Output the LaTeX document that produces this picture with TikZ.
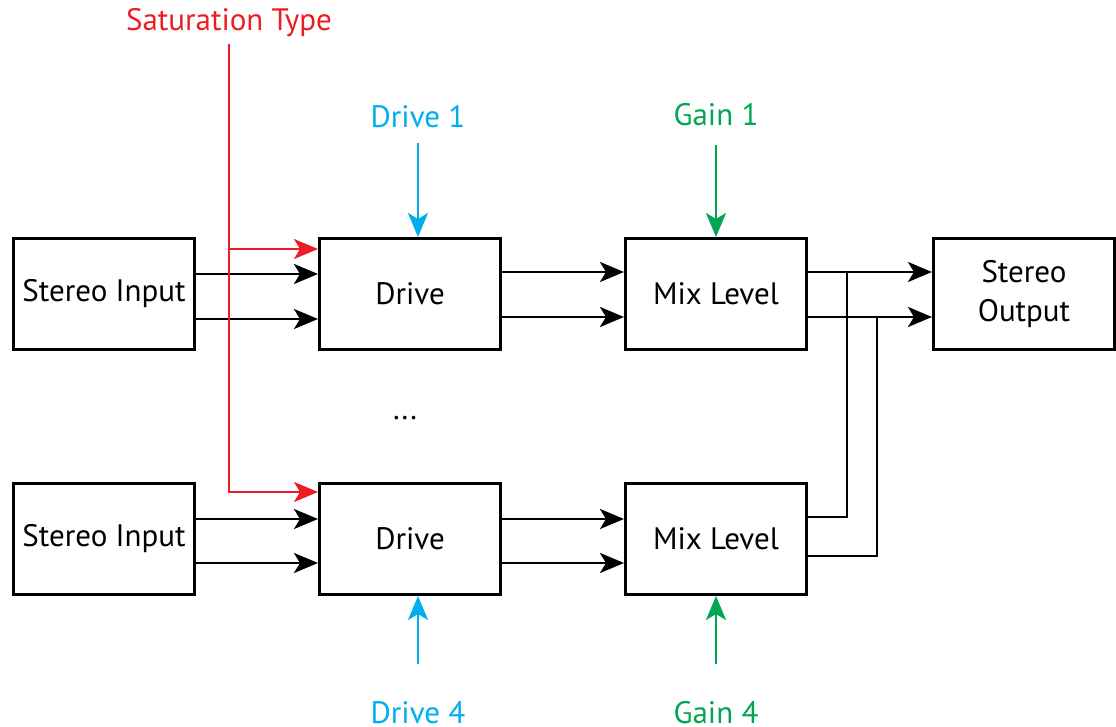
\documentclass[tikz,border=0pt]{standalone}
\usepackage{fontspec}
\setmainfont{PT Sans}
\usetikzlibrary{calc,positioning,arrows.meta}
\definecolor{satred}{RGB}{237,28,36}
\definecolor{driveblue}{RGB}{0,174,239}
\definecolor{gaingreen}{RGB}{0,166,81}

\begin{document}
\begin{tikzpicture}[
    font=\fontsize{15.5pt}{19.5pt}\selectfont,
    >={Stealth[length=12pt,width=10pt,inset=3pt]},
  ]
  \useasboundingbox (0,0) rectangle (558pt,-363.5pt);
  \begin{scope}[
    block node/.style={
      draw,
      line width=1.5pt,
      align=center,
      minimum width=90.5pt,
      minimum height=55.5pt,
      inner sep=0pt,
    },
    node distance=61pt,
    ]
    \node[block node] (input-one) at (52pt,-147pt) {Stereo Input};
    \node[block node,right=of input-one] (drive-one) {Drive};
    \node[block node,right=of drive-one] (mix-one)   {Mix Level};
    \node[block node,right=62pt of mix-one] (output) {Stereo\\Output};
    \node[block node,below=65.5pt of input-one] (input-four) {Stereo Input};
    \node[block node,right=of input-four] (drive-four) {Drive};
    \node[block node,right=of drive-four] (mix-four)   {Mix Level};
  \end{scope}
  \node (more) at ($(drive-one)!0.5!(drive-four)+(-2.5pt,-1pt)$) {...};
  \begin{scope}[
    every path/.style={draw,->,line width=1.35pt},
    ]
    \draw ([yshift=10pt]input-one.east)    -- ([yshift=10pt]drive-one.west);
    \draw ([yshift=-12.5pt]input-one.east) -- ([yshift=-12.5pt]drive-one.west);
    \draw ([yshift=11pt]drive-one.east)    -- ([yshift=11pt]mix-one.west);
    \draw ([yshift=-11.5pt]drive-one.east) -- ([yshift=-11.5pt]mix-one.west);
    \draw ([yshift=11pt]mix-one.east)      -- ([yshift=11pt]output.west);
    \draw ([yshift=-11.5pt]mix-one.east)   -- ([yshift=-11.5pt]output.west);
    \draw ([yshift=10pt]input-four.east)   -- ([yshift=10pt]drive-four.west);
    \draw ([yshift=-12pt]input-four.east)  -- ([yshift=-12pt]drive-four.west);
    \draw ([yshift=10pt]drive-four.east)   -- ([yshift=10pt]mix-four.west);
    \draw ([yshift=-12pt]drive-four.east)  -- ([yshift=-12pt]mix-four.west);
  \end{scope}
  % bus from the lower mix into the output lines
  \coordinate (merge-left)  at ($(mix-one.east)+(19.5pt,11pt)$);
  \coordinate (merge-right) at ($(mix-one.east)+(34.5pt,-11.5pt)$);
  \draw[line width=1.35pt] ([yshift=11pt]mix-four.east) -| (merge-left);
  \draw[line width=1.35pt] ([yshift=-8.5pt]mix-four.east) -| (merge-right);
  % saturation type
  \node[satred,inner sep=0pt] (sat-type) at (114.5pt,-11.5pt) {Saturation Type};
  \coordinate (sat-one)  at ($(drive-one.north west)+(0,-6pt)$);
  \coordinate (sat-four) at ($(drive-four.north west)+(0,-5pt)$);
  \coordinate (sat-split) at (sat-type |- sat-one);
  \draw[satred,line width=1pt,->,shorten <=3pt] (sat-type) |- (sat-four);
  \draw[satred,line width=1pt,->] (sat-split) -- (sat-one);
  % controls
  \begin{scope}[
    control label/.style={inner sep=0pt},
    every path/.style={line width=1.35pt},
    ]
    \node[control label,driveblue,above=54pt of drive-one,xshift=4pt] (drive-1) {Drive 1};
    \node[control label,gaingreen,above=55pt of mix-one] (gain-1) {Gain 1};
    \node[control label,driveblue,below=52pt of drive-four,xshift=4pt] (drive-4) {Drive 4};
    \node[control label,gaingreen,below=52pt of mix-four] (gain-4) {Gain 4};
    \draw[driveblue,->,shorten <=7pt]  (drive-1) -- ([xshift=4pt]drive-one.north);
    \draw[gaingreen,->,shorten <=9pt]  (gain-1)  -- (mix-one.north);
    \draw[driveblue,->,shorten <=18pt] (drive-4) -- ([xshift=4pt]drive-four.south);
    \draw[gaingreen,->,shorten <=18pt] (gain-4)  -- (mix-four.south);
  \end{scope}
\end{tikzpicture}
\end{document}
